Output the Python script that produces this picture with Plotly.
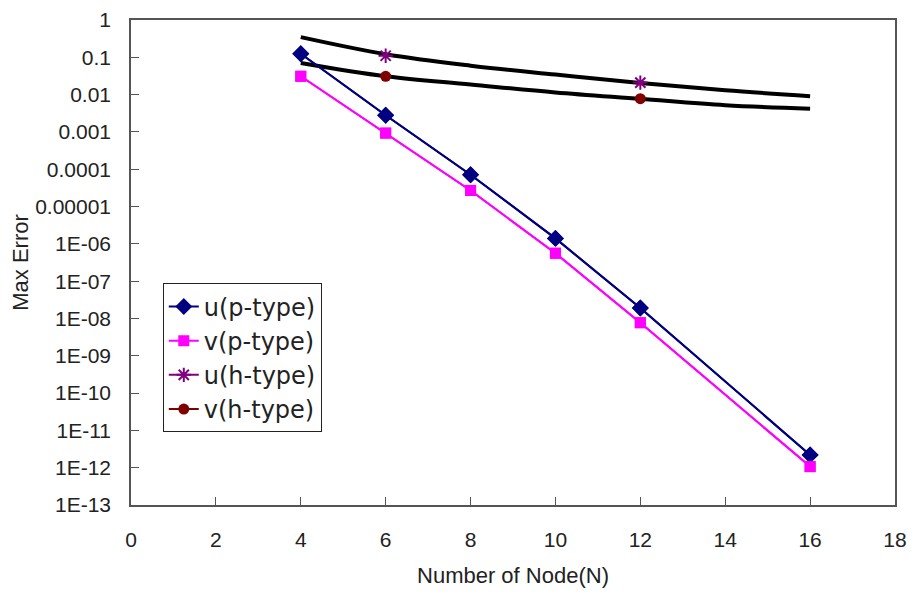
import plotly.graph_objects as go

# Data
nodes_p = [4, 6, 8, 10, 12, 16]
u_p = [0.125, 0.0028, 7.1e-5, 1.4e-6, 1.9e-8, 2.2e-12]
v_p = [0.031, 0.00093, 2.7e-5, 5.6e-7, 7.7e-9, 1.07e-12]

nodes_h = [6, 12]
u_h = [0.11, 0.021]
v_h = [0.031, 0.0078]

nodes_ref = [4, 6, 8, 10, 12, 14, 16]
ref_upper = [0.347, 0.121, 0.0598, 0.0345, 0.0205, 0.0131, 0.0091]
ref_lower = [0.0705, 0.031, 0.0187, 0.0114, 0.0077, 0.0052, 0.0042]

y_tickvals = [1, 0.1, 0.01, 0.001, 0.0001, 0.00001, 1e-6, 1e-7, 1e-8, 1e-9,
              1e-10, 1e-11, 1e-12, 1e-13]
y_ticktext = ["1", "0.1", "0.01", "0.001", "0.0001", "0.00001", "1E-06", "1E-07",
              "1E-08", "1E-09", "1E-10", "1E-11", "1E-12", "1E-13"]
x_tickvals = [0, 2, 4, 6, 8, 10, 12, 14, 16, 18]

FONT = "Liberation Sans"
TXT = "#222222"
AX = "#555555"

fig = go.Figure()

# legend entries (order as in reference)
fig.add_trace(go.Scatter(x=nodes_p, y=u_p, mode="lines+markers", name="u(p-type)",
                         line=dict(color="#000080", width=2),
                         marker=dict(symbol="diamond", size=13, color="#000080")))
fig.add_trace(go.Scatter(x=nodes_p, y=v_p, mode="lines+markers", name="v(p-type)",
                         line=dict(color="#FF00FF", width=2),
                         marker=dict(symbol="square", size=11, color="#FF00FF")))
fig.add_trace(go.Scatter(x=[None], y=[None], mode="lines+markers", name="u(h-type)",
                         line=dict(color="#800080", width=2),
                         marker=dict(symbol="asterisk-open", size=12, color="#800080",
                                     line=dict(width=2, color="#800080"))))
fig.add_trace(go.Scatter(x=[None], y=[None], mode="lines+markers", name="v(h-type)",
                         line=dict(color="#800000", width=2),
                         marker=dict(symbol="circle", size=11, color="#800000")))

for ys in (ref_upper, ref_lower):
    fig.add_trace(go.Scatter(x=nodes_ref, y=ys, mode="lines", showlegend=False,
                             line=dict(color="black", width=4, shape="spline"),
                             hoverinfo="skip"))

fig.add_trace(go.Scatter(x=nodes_h, y=u_h, mode="markers", showlegend=False,
                         marker=dict(symbol="asterisk-open", size=12, color="#800080",
                                     line=dict(width=2, color="#800080"))))
fig.add_trace(go.Scatter(x=nodes_h, y=v_h, mode="markers", showlegend=False,
                         marker=dict(symbol="circle", size=11, color="#800000")))

# redraw p-type on top of the black lines
fig.add_trace(go.Scatter(x=nodes_p, y=u_p, mode="lines+markers", showlegend=False,
                         line=dict(color="#000080", width=2),
                         marker=dict(symbol="diamond", size=13, color="#000080")))
fig.add_trace(go.Scatter(x=nodes_p, y=v_p, mode="lines+markers", showlegend=False,
                         line=dict(color="#FF00FF", width=2),
                         marker=dict(symbol="square", size=11, color="#FF00FF")))

fig.update_layout(
    width=907, height=580,
    margin=dict(l=123, r=20, t=12, b=83),
    paper_bgcolor="white", plot_bgcolor="white",
    font=dict(family=FONT, size=20, color=TXT),
    legend=dict(x=0.0416, y=0.457, xanchor="left", yanchor="top",
                bordercolor="#222222", borderwidth=1, bgcolor="white",
                font=dict(family="DejaVu Sans", size=24, color=TXT),
                traceorder="normal"),
)

fig.update_xaxes(range=[0, 18], tickvals=x_tickvals, ticks="inside", ticklen=8,
                 tickcolor=AX, showline=True, linecolor=AX, linewidth=1.5,
                 mirror=True, showgrid=False, zeroline=False, automargin=False,
                 title=dict(text="Number of Node(N)", font=dict(size=22), standoff=22),
                 tickfont=dict(size=21), ticklabelstandoff=15,
                 ticklabeloverflow="allow")
fig.update_yaxes(type="log", range=[-13, 0], tickvals=y_tickvals, ticktext=y_ticktext,
                 ticks="inside", ticklen=8, tickcolor=AX,
                 showline=True, linecolor=AX, linewidth=1.5, mirror=True,
                 showgrid=False, zeroline=False, automargin=False,
                 title=dict(text="Max Error", font=dict(size=22), standoff=1),
                 tickfont=dict(size=21), ticklabelstandoff=14,
                 ticklabeloverflow="allow")

fig.write_html("out.html")
